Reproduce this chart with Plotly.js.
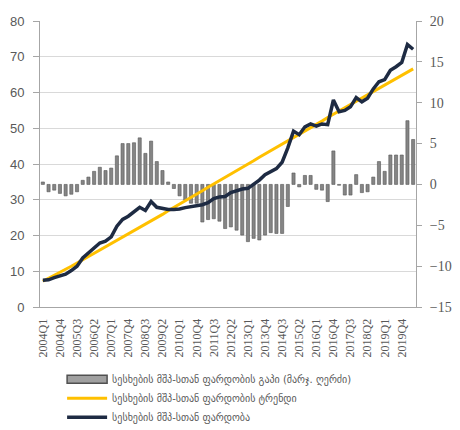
<!DOCTYPE html>
<html>
<head>
<meta charset="utf-8">
<script src="https://cdn.plot.ly/plotly-3.0.1.min.js"></script>
<style>
  html, body { margin: 0; padding: 0; background: #ffffff; }
  #chart { width: 460px; height: 430px; }
</style>
</head>
<body>
<div id="chart"></div>
<script>
// Quarters 2004Q1 .. 2020Q2
const quarters = [];
for (let y = 2004; y <= 2020; y++) {
  for (let q = 1; q <= 4; q++) {
    if (y === 2020 && q > 2) break;
    quarters.push(y + 'Q' + q);
  }
}

// Loans-to-GDP ratio (left axis, %)
const ratio = [
  7.5, 7.6, 8.2, 8.6, 9.2, 10.2, 11.4, 13.7, 15.0, 16.5,
  17.9, 18.4, 19.6, 22.6, 24.5, 25.4, 26.6, 27.9, 27.0, 29.5,
  27.9, 27.6, 27.3, 27.3, 27.4, 27.8, 28.0, 28.3, 28.6, 29.2,
  30.3, 30.8, 30.9, 32.0, 32.5, 33.0, 33.2, 34.3, 35.5, 37.0,
  37.8, 38.7, 40.5, 44.5, 49.2, 48.2, 50.4, 51.2, 50.6, 51.2,
  51.0, 57.9, 54.6, 55.0, 56.0, 58.6, 57.4, 58.4, 61.0, 63.0,
  63.6, 66.2, 67.2, 68.4, 73.4, 72.1
];

// Trend of the ratio (left axis, %)
const trend = [
  7.2, 8.0, 8.9, 9.7, 10.6, 11.4, 12.3, 13.2, 14.1, 14.9,
  15.8, 16.7, 17.6, 18.6, 19.5, 20.4, 21.3, 22.2, 23.2, 24.1,
  25.0, 25.9, 26.9, 27.8, 28.8, 29.7, 30.6, 31.6, 32.5, 33.5,
  34.4, 35.3, 36.3, 37.2, 38.1, 39.1, 40.0, 40.9, 41.9, 42.8,
  43.7, 44.6, 45.6, 46.5, 47.4, 48.3, 49.3, 50.2, 51.1, 52.0,
  53.0, 53.9, 54.8, 55.7, 56.6, 57.5, 58.4, 59.3, 60.2, 61.1,
  62.0, 62.9, 63.8, 64.8, 65.7, 66.6
];

// Gap (right axis, p.p.)
const gap = [
  0.3, -0.9, -0.7, -1.1, -1.4, -1.2, -0.9, 0.5, 0.9, 1.6,
  2.1, 1.7, 2.0, 3.5, 5.0, 5.0, 5.1, 5.7, 3.8, 5.3,
  2.8, 1.7, 0.3, -0.5, -1.4, -1.9, -2.3, -2.3, -4.6, -4.3,
  -4.2, -4.5, -5.4, -5.2, -5.6, -6.2, -7.0, -6.6, -6.8, -6.2,
  -5.9, -6.0, -6.0, -2.7, 1.4, -0.3, 1.1, 1.1, -0.6, -0.7,
  -2.1, 4.1, -0.1, -1.3, -1.3, 1.2, -1.0, -0.9, 0.9, 2.8,
  1.6, 3.6, 3.6, 3.6, 7.8, 5.5
];

const names = [
  'სესხების მშპ-სთან ფარდობის გაპი (მარჯ. ღერძი)',
  'სესხების მშპ-სთან ფარდობის ტრენდი',
  'სესხების მშპ-სთან ფარდობა'
];

// every third quarter is labelled
const tickLabels = quarters.filter((q, i) => i % 3 === 0);

const traces = [
  {
    type: 'bar', x: quarters, y: gap, name: names[0],
    xaxis: 'x', yaxis: 'y',
    marker: { color: '#858585', line: { color: '#555555', width: 0.6 } }
  },
  {
    type: 'scatter', mode: 'lines', x: quarters, y: trend, name: names[1],
    xaxis: 'x', yaxis: 'y2',
    line: { color: '#FFC000', width: 3 }
  },
  {
    type: 'scatter', mode: 'lines', x: quarters, y: ratio, name: names[2],
    xaxis: 'x', yaxis: 'y2',
    line: { color: '#1E2B43', width: 3.5 }
  }
];

const layout = {
  width: 460, height: 430,
  margin: { l: 40, r: 44, t: 21, b: 123, autoexpand: false },
  paper_bgcolor: '#ffffff', plot_bgcolor: '#ffffff',
  showlegend: true,
  bargap: 0.45,
  xaxis: {
    type: 'category',
    tickvals: tickLabels, ticktext: tickLabels,
    tickangle: -90,
    tickfont: { family: 'Liberation Serif, serif', size: 12, color: '#595959' },
    ticklabelstandoff: 6,
    showgrid: false, showline: true, linecolor: '#a6a6a6', linewidth: 1,
    ticks: '', zeroline: false
  },
  yaxis: {
    side: 'right',
    range: [-15, 20], dtick: 5,
    showgrid: false, zeroline: false,
    showline: true, linecolor: '#a6a6a6', linewidth: 1,
    ticks: 'outside', ticklen: 5, tickcolor: '#a6a6a6',
    ticklabelstandoff: 5,
    tickfont: { family: 'Liberation Serif, serif', size: 14, color: '#595959' }
  },
  yaxis2: {
    side: 'left', overlaying: 'y',
    range: [0, 80], dtick: 10,
    showgrid: true, gridcolor: '#d9d9d9', gridwidth: 1,
    zeroline: false,
    showline: true, linecolor: '#a6a6a6', linewidth: 1,
    ticks: 'outside', ticklen: 6, tickcolor: '#a6a6a6',
    ticklabelstandoff: 6,
    tickfont: { family: 'Liberation Sans, Arial, sans-serif', size: 13, color: '#595959' }
  },
  legend: {
    xref: 'container', yref: 'container',
    x: 0.135, xanchor: 'left', y: 0.152, yanchor: 'top',
    orientation: 'v',
    itemwidth: 40,
    font: { family: 'DejaVu Sans, sans-serif', size: 10, color: '#595959' },
    bgcolor: 'rgba(0,0,0,0)', tracegroupgap: 0
  }
};

Plotly.newPlot('chart', traces, layout, { displayModeBar: false, staticPlot: true }).then(function () {
  // widen the bar legend swatch to the same length as the line swatches
  const items = document.querySelectorAll('#chart .legend .traces');
  if (items.length < 2) return;
  const lineP = items[1].querySelector('.legendlines path');
  const barP = items[0].querySelector('.legendpoints path');
  if (!lineP || !barP) return;
  const lb = lineP.getBBox();
  const lm = lineP.getScreenCTM();
  const bm = barP.getScreenCTM();
  const left = lm.e + lb.x - bm.e;
  const right = left + lb.width;
  barP.setAttribute('d', 'M' + left + ',4H' + right + 'V-4H' + left + 'Z');
  barP.style.fill = '#a0a0a0';
  barP.style.stroke = '#505050';
  barP.style.strokeWidth = '1.5px';
});
</script>
</body>
</html>
